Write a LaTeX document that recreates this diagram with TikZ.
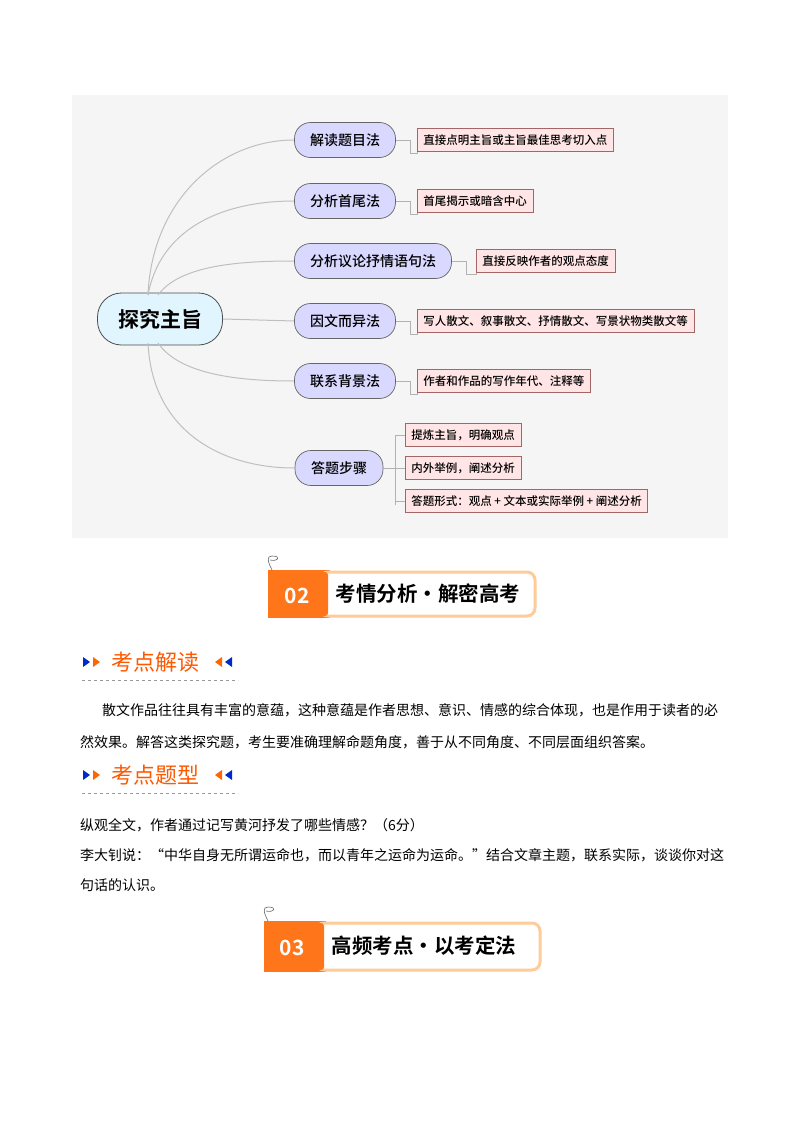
\documentclass[tikz,border=0pt]{standalone}
\usepackage{fontspec}
\setmainfont{Noto Sans CJK SC}
\newfontfamily\cjkb{Noto Sans CJK SC Bold}
\newfontfamily\cjkm{Noto Sans CJK SC Medium}
\begin{document}
\begin{tikzpicture}[x=1pt,y=-1pt,
  mainn/.style={draw=black!70,fill=cyan!12,rounded corners=24pt,minimum width=125pt,minimum height=52pt,font=\cjkb\fontsize{21}{21}\selectfont,line width=0.8pt},
  br/.style={draw=black!60,fill=blue!15,rounded corners=16pt,minimum height=35pt,inner xsep=12pt,font=\cjkm\fontsize{14}{14}\selectfont,line width=0.7pt},
  leaf/.style={draw=red!40!black!60,fill=pink!40,minimum height=23pt,inner xsep=6pt,font=\cjkm\fontsize{11.5}{11.5}\selectfont,anchor=west,line width=0.6pt},
  curv/.style={draw=black!25,line width=1pt},
  elb/.style={draw=black!30,line width=0.6pt},
  body/.style={anchor=west,font=\fontsize{14}{14}\selectfont,inner sep=0pt},
  hd/.style={anchor=west,font=\fontsize{22}{22}\selectfont,text=orange!70!red,inner sep=0pt}]
\useasboundingbox (0,0) rectangle (800,1132);
\fill[white] (0,0) rectangle (800,1132);
\fill[black!4] (72,95) rectangle (728,538);
% mind map
\node[mainn] (c) at (160,319) {探究主旨};
\node[br,minimum width=101pt] (n1) at (345,140) {解读题目法};
\node[br,minimum width=101pt] (n2) at (345,201) {分析首尾法};
\node[br,minimum width=157pt] (n3) at (373,261) {分析议论抒情语句法};
\node[br,minimum width=101pt] (n4) at (345,321) {因文而异法};
\node[br,minimum width=101pt] (n5) at (345,381) {联系背景法};
\node[br,minimum width=88pt] (n6) at (339,468) {答题步骤};
\node[leaf] (l1) at (417,140) {直接点明主旨或主旨最佳思考切入点};
\node[leaf] (l2) at (417,201) {首尾揭示或暗含中心};
\node[leaf] (l3) at (476,261) {直接反映作者的观点态度};
\node[leaf] (l4) at (417,321) {写人散文、叙事散文、抒情散文、写景状物类散文等};
\node[leaf] (l5) at (417,381) {作者和作品的写作年代、注释等};
\node[leaf] (l6a) at (405,435) {提炼主旨，明确观点};
\node[leaf] (l6b) at (405,468) {内外举例，阐述分析};
\node[leaf] (l6c) at (405,501) {答题形式：观点 + 文本或实际举例 + 阐述分析};
\coordinate (ct) at (148,295);
\coordinate (ct2) at (158,295);
\coordinate (cb) at (148,343);
\coordinate (cb2) at (158,343);
\draw[curv] (ct) .. controls (152,200) and (220,140) .. (n1.west);
\draw[curv] (ct) .. controls (160,230) and (220,201) .. (n2.west);
\draw[curv] (ct2) .. controls (180,265) and (240,261) .. (n3.west);
\draw[curv] (c.east) -- (n4.west);
\draw[curv] (cb2) .. controls (180,375) and (240,381) .. (n5.west);
\draw[curv] (cb) .. controls (152,430) and (220,468) .. (n6.west);
\foreach \a/\b in {n1/l1,n2/l2,n3/l3,n4/l4,n5/l5}{
  \draw[elb] (\a.east) -- ++(14,0) |- ([yshift=-1pt]\b.south west) -- (\b.south west);
}
\coordinate (v) at (395,468);
\draw[elb] (n6.east) -- (v);
\draw[elb] (395,435) -- (395,505) ;
\foreach \b in {l6a,l6b,l6c}{\draw[elb] (\b.west) -- ++(-10,0);}
% banner 02
\begin{scope}
\fill[orange!80!red!90] (268,570) rectangle (330,618);
\draw[orange!40,fill=white,line width=3pt,rounded corners=8pt] (320,572) -- (535,572) -- (535,616) -- (320,616) -- cycle;
\fill[orange!80!red!90,rounded corners=3pt] (268,572) rectangle (328,616);
\node[font=\cjkb\fontsize{21}{21}\selectfont,text=white] (b2n) at (297,596) {02};
\node[font=\cjkb\fontsize{20.5}{20.5}\selectfont,anchor=west] (b2t) at (332,594) {考情分析·解密高考};
\draw[black!60,line width=0.6pt] (272,570) .. controls (268,562) and (266,556) .. (272,556) .. controls (282,556) and (278,562) .. (270,560);
\end{scope}
% banner 03
\begin{scope}
\fill[orange!80!red!90] (264,921) rectangle (326,972);
\draw[orange!40,fill=white,line width=3pt,rounded corners=8pt] (316,923) -- (540,923) -- (540,970) -- (316,970) -- cycle;
\fill[orange!80!red!90,rounded corners=3pt] (264,923) rectangle (324,970);
\node[font=\cjkb\fontsize{21}{21}\selectfont,text=white] (b3n) at (292,948) {03};
\node[font=\cjkb\fontsize{20.5}{20.5}\selectfont,anchor=west] (b3t) at (328,946) {高频考点·以考定法};
\draw[black!60,line width=0.6pt] (268,921) .. controls (264,913) and (262,907) .. (268,907) .. controls (278,907) and (274,913) .. (266,911);
\end{scope}
% headers
\foreach \yy/\tt [count=\i] in {662/考点解读,775/考点题型}{
  \fill[blue!80!cyan!80!black] (83,\yy-5) -- (90,\yy) -- (83,\yy+5) -- cycle;
  \fill[orange!80!red] (93,\yy-5) -- (100,\yy) -- (93,\yy+5) -- cycle;
  \node[hd] (h\i) at (111,\yy) {\tt};
  \fill[orange!80!red] (222,\yy-5) -- (215,\yy) -- (222,\yy+5) -- cycle;
  \fill[blue!80!cyan!80!black] (232,\yy-5) -- (225,\yy) -- (232,\yy+5) -- cycle;
  \draw[black!40,dashed,line width=0.4pt] (82,\yy+18) -- (238,\yy+18);
}
\node[body] (p1) at (102,710) {散文作品往往具有丰富的意蕴，这种意蕴是作者思想、意识、情感的综合体现，也是作用于读者的必};
\node[body] (p2) at (80,742) {然效果。解答这类探究题，考生要准确理解命题角度，善于从不同角度、不同层面组织答案。};
\node[body] (q1) at (80,825) {纵观全文，作者通过记写黄河抒发了哪些情感？（6分）};
\node[body] (q2) at (80,855) {李大钊说：“中华自身无所谓运命也，而以青年之运命为运命。”结合文章主题，联系实际，谈谈你对这};
\node[body] (q3) at (80,885) {句话的认识。};
\end{tikzpicture}
\end{document}
